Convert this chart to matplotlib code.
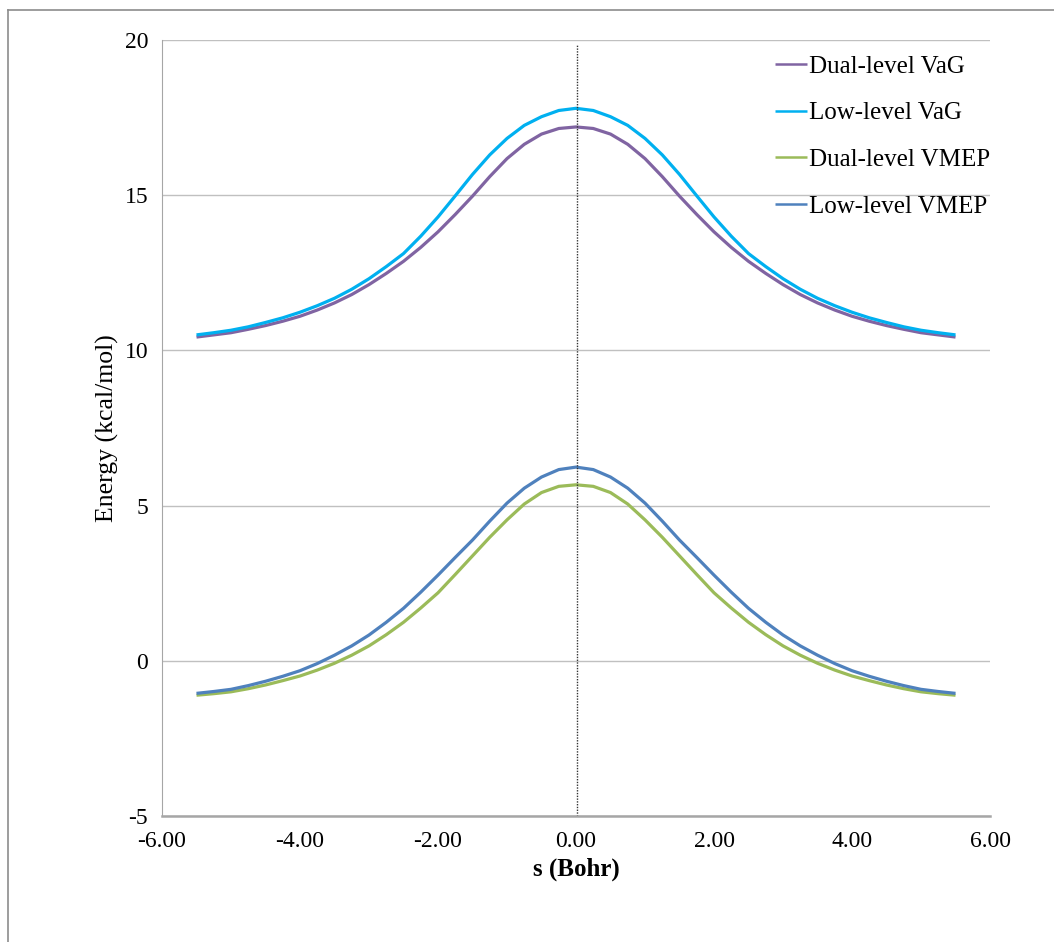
import matplotlib.pyplot as plt
from matplotlib.lines import Line2D

# -------------------------------
# Data
# -------------------------------

s_bohr = [-5.5, -5.25, -5.0, -4.75, -4.5, -4.25, -4.0, -3.75, -3.5, -3.25, -3.0,
          -2.75, -2.5, -2.25, -2.0, -1.75, -1.5, -1.25, -1.0, -0.75, -0.5, -0.25,
          0.0,
          0.25, 0.5, 0.75, 1.0, 1.25, 1.5, 1.75, 2.0, 2.25, 2.5, 2.75,
          3.0, 3.25, 3.5, 3.75, 4.0, 4.25, 4.5, 4.75, 5.0, 5.25, 5.5]

dual_vag = [10.43, 10.50, 10.57, 10.68, 10.80, 10.94, 11.10, 11.30, 11.53, 11.80, 12.12,
            12.48, 12.87, 13.32, 13.82, 14.38, 14.97, 15.60, 16.18, 16.64, 16.97, 17.15,
            17.20,
            17.15, 16.97, 16.64, 16.18, 15.60, 14.97, 14.38, 13.82, 13.32, 12.87, 12.48,
            12.12, 11.80, 11.53, 11.30, 11.10, 10.94, 10.80, 10.68, 10.57, 10.50, 10.43]

low_vag = [10.50, 10.57, 10.65, 10.76, 10.90, 11.05, 11.23, 11.44, 11.68, 11.97, 12.31,
           12.70, 13.12, 13.68, 14.30, 14.98, 15.67, 16.30, 16.83, 17.25, 17.53, 17.73,
           17.80,
           17.73, 17.53, 17.25, 16.83, 16.30, 15.67, 14.98, 14.30, 13.68, 13.12, 12.70,
           12.31, 11.97, 11.68, 11.44, 11.23, 11.05, 10.90, 10.76, 10.65, 10.57, 10.50]

dual_vmep = [-1.11, -1.06, -1.00, -0.90, -0.78, -0.64, -0.49, -0.30, -0.08, 0.18, 0.48,
             0.84, 1.24, 1.70, 2.19, 2.78, 3.38, 3.98, 4.54, 5.05, 5.42, 5.62,
             5.67,
             5.62, 5.42, 5.05, 4.54, 3.98, 3.38, 2.78, 2.19, 1.70, 1.24, 0.84,
             0.48, 0.18, -0.08, -0.30, -0.49, -0.64, -0.78, -0.90, -1.00, -1.06, -1.11]

low_vmep = [-1.05, -0.99, -0.92, -0.80, -0.66, -0.50, -0.32, -0.09, 0.18, 0.48, 0.83,
            1.24, 1.69, 2.21, 2.76, 3.33, 3.89, 4.50, 5.08, 5.56, 5.92, 6.16,
            6.24,
            6.16, 5.92, 5.56, 5.08, 4.50, 3.89, 3.33, 2.76, 2.21, 1.69, 1.24,
            0.83, 0.48, 0.18, -0.09, -0.32, -0.50, -0.66, -0.80, -0.92, -0.99, -1.05]

series_names = ["Dual-level VaG", "Low-level VaG", "Dual-level VMEP", "Low-level VMEP"]
series_colors = ["#8064A2", "#00B0F0", "#9BBB59", "#4F81BD"]

x_ticks = [-6, -4, -2, 0, 2, 4, 6]
y_ticks = [-5, 0, 5, 10, 15, 20]

# -------------------------------
# Figure
# -------------------------------

plt.rcParams["font.family"] = ["Liberation Serif", "DejaVu Serif"]
plt.rcParams["axes.unicode_minus"] = False

fig = plt.figure(figsize=(10.54, 9.42), dpi=100)
ax = fig.add_axes([0.1537, 0.1338, 0.7856, 0.8237])

# outer chart frame (top and left edges)
fig.add_artist(Line2D([8 / 1054, 1.0], [1 - 10 / 942, 1 - 10 / 942],
                      transform=fig.transFigure, color="#8c8c8c", lw=1.2))
fig.add_artist(Line2D([8 / 1054, 8 / 1054], [0.0, 1 - 10 / 942],
                      transform=fig.transFigure, color="#8c8c8c", lw=1.2))

for y_vals, name, col in zip([dual_vag, low_vag, dual_vmep, low_vmep],
                             series_names, series_colors):
    ax.plot(s_bohr, y_vals, color=col, lw=2.3, label=name,
            solid_capstyle="butt", solid_joinstyle="round")

ax.axvline(0.01, color="#333333", lw=1.0, ls=(0, (1, 1)), ymax=0.995)

ax.set_xlim(-6, 6)
ax.set_ylim(-5, 20)
ax.set_xticks(x_ticks)
ax.set_xticklabels([f"{v:.2f}" for v in x_ticks])
ax.set_yticks(y_ticks)

ax.yaxis.grid(True, color="#c0c0c0", lw=1.0)
ax.set_axisbelow(True)
ax.tick_params(length=0, labelsize=17, pad=10)
ax.tick_params(axis="x", pad=11)

for side in ["top", "right"]:
    ax.spines[side].set_visible(False)
ax.spines["left"].set_color("#a6a6a6")
ax.spines["bottom"].set_color("#a6a6a6")
ax.spines["bottom"].set_linewidth(1.8)

ax.set_xlabel("s (Bohr)", fontsize=18, fontweight="bold", labelpad=4)
ax.set_ylabel("Energy (kcal/mol)", fontsize=18.5, labelpad=4)

leg = ax.legend(loc="upper left", bbox_to_anchor=(0.722, 1.0), frameon=False,
                fontsize=18, handlelength=1.3, handletextpad=0.05,
                labelspacing=0.97, borderaxespad=0.2)
for h in leg.get_lines():
    h.set_linewidth(1.8)

fig.savefig("out.png", dpi=100)
